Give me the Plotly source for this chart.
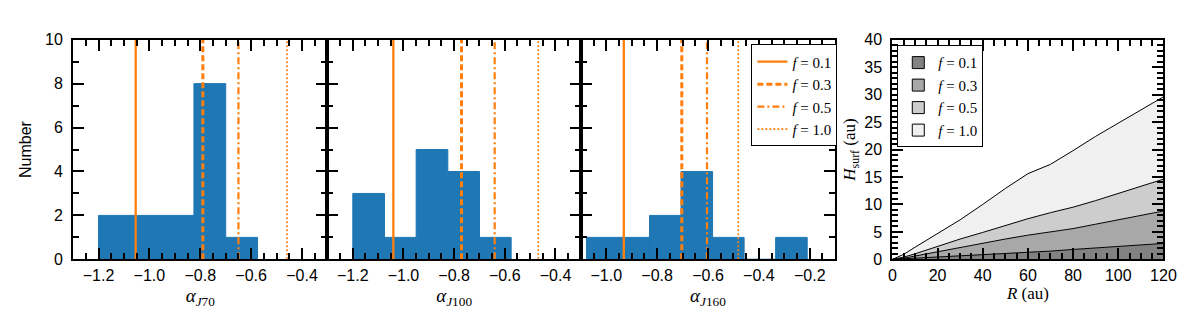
import plotly.graph_objects as go

# ── histogram data (bin start, bin width, counts) ───────────────────────────
BIN_START_J70 = -1.2
BIN_START_J100 = -1.2
BIN_START_J160 = -1.078
BIN_WIDTH = 0.125
BIN_WIDTH_J160 = 0.124
COUNTS_J70 = [2, 2, 2, 8, 1]
COUNTS_J100 = [3, 1, 5, 4, 1]
COUNTS_J160 = [1, 1, 2, 4, 1, 0, 1]

# ── vertical model lines (alpha for f = 0.1, 0.3, 0.5, 1.0) ─────────────────
F_LABELS = ['<i>f</i> = 0.1', '<i>f</i> = 0.3', '<i>f</i> = 0.5', '<i>f</i> = 1.0']
ALPHA_J70 = [-1.054, -0.790, -0.650, -0.459]
ALPHA_J100 = [-1.040, -0.771, -0.640, -0.468]
ALPHA_J160 = [-0.931, -0.703, -0.604, -0.481]

# ── surface height vs radius ────────────────────────────────────────────────
R_AU = [0, 5, 10, 20, 30, 40, 50, 60, 70, 80, 90, 100, 110, 120]
H_F01 = [0, 0.1, 0.2, 0.4, 0.6, 0.9, 1.1, 1.3, 1.5, 1.8, 2.1, 2.4, 2.6, 2.9]
H_F03 = [0, 0.2, 0.6, 1.4, 2.1, 2.9, 3.7, 4.4, 5.0, 5.6, 6.4, 7.2, 8.0, 8.8]
H_F05 = [0, 0.4, 1.0, 2.4, 3.7, 4.9, 6.2, 7.4, 8.5, 9.5, 10.7, 12.0, 13.3, 14.6]
H_F10 = [0, 0.9, 2.2, 4.7, 7.2, 10.0, 12.9, 15.6, 17.3, 19.8, 22.4, 24.8, 27.2, 29.6]

BLUE = '#1f77b4'
ORANGE = '#ff7f0e'
GREYS = ['#828282', '#a8a8a8', '#cdcdcd', '#f0f0f0']
LINE_STYLES = [('solid', 2.3), ('6px,3px', 3), ('7px,3px,2px,3px', 2.2), ('2px,2px', 1.6)]

SANS = 'Liberation Sans, Arial, sans-serif'
SERIF = 'Liberation Serif, Times New Roman, serif'

W, H = 1200, 320
TOP, BOTTOM = 25, 257
PANELS_PX = [(62, 320), (320, 577), (577, 835), (893, 1168)]

fig = go.Figure()

hist_sets = [
    (BIN_START_J70, BIN_WIDTH, COUNTS_J70, ALPHA_J70, 'x', 'y'),
    (BIN_START_J100, BIN_WIDTH, COUNTS_J100, ALPHA_J100, 'x2', 'y3'),
    (BIN_START_J160, BIN_WIDTH_J160, COUNTS_J160, ALPHA_J160, 'x3', 'y4'),
]
for i, (start, width, counts, alphas, xa, ya) in enumerate(hist_sets):
    centers = [start + width * (k + 0.5) for k in range(len(counts))]
    fig.add_trace(go.Bar(
        x=centers, y=counts, width=width,
        marker=dict(color=BLUE, line=dict(color=BLUE, width=1)),
        xaxis=xa, yaxis=ya, showlegend=False, hoverinfo='skip',
    ))
    for a, lab, (dash, lw) in zip(alphas, F_LABELS, LINE_STYLES):
        fig.add_trace(go.Scatter(
            x=[a, a], y=[0, 10], mode='lines',
            line=dict(color=ORANGE, dash=dash, width=lw),
            name=lab, legend='legend', showlegend=(i == 2),
            xaxis=xa, yaxis=ya, hoverinfo='skip',
        ))

for k, (hv, lab) in enumerate(zip([H_F01, H_F03, H_F05, H_F10], F_LABELS)):
    fig.add_trace(go.Scatter(
        x=R_AU, y=hv, mode='lines',
        fill='tozeroy' if k == 0 else 'tonexty',
        fillcolor=GREYS[k],
        line=dict(color='black', width=1),
        name=lab, showlegend=False,
        xaxis='x4', yaxis='y2', hoverinfo='skip',
    ))
# rectangular legend patches for the filled regions
for k, lab in enumerate(F_LABELS):
    fig.add_trace(go.Bar(
        x=[None], y=[None], name=lab, legend='legend2',
        marker=dict(color=GREYS[k], line=dict(color='black', width=1)),
        xaxis='x4', yaxis='y2', hoverinfo='skip',
    ))

tick_font = dict(family=SANS, size=16, color='black')
common = dict(
    showline=True, linecolor='black', linewidth=2, mirror='allticks',
    ticks='inside', ticklen=11, tickwidth=2, tickcolor='black',
    showgrid=False, zeroline=False, tickfont=tick_font,
)
minor_ticks = dict(ticks='inside', ticklen=6, tickwidth=1.5, tickcolor='black')


def dom(px):
    return [px[0] / W, px[1] / W]


ydom = [1 - BOTTOM / H, 1 - TOP / H]
xlab = ['<i>α</i><sub><i>J</i>70</sub>', '<i>α</i><sub><i>J</i>100</sub>', '<i>α</i><sub><i>J</i>160</sub>']
xranges = [[-1.3, -0.3], [-1.3, -0.3], [-1.1, -0.1]]

layout = dict(
    width=W, height=H, margin=dict(l=0, r=0, t=0, b=0),
    font=dict(family=SANS, color='black'),
    plot_bgcolor='white', paper_bgcolor='white', barmode='overlay',
    yaxis=dict(
        domain=ydom, range=[0, 10], dtick=2, anchor='x', ticklabelstandoff=5,
        minor=dict(dtick=1, **minor_ticks),
        title=dict(text='Number', font=dict(family=SANS, size=16, color='black'), standoff=10),
        **common,
    ),
    yaxis2=dict(
        domain=ydom, range=[0, 40], dtick=5, anchor='x4', ticklabelstandoff=5,
        minor=dict(dtick=1, **minor_ticks),
        title=dict(text='<i>H</i><sub>surf</sub> (au)',
                   font=dict(family=SERIF, size=17, color='black'), standoff=4),
        **common,
    ),
    xaxis4=dict(
        domain=dom(PANELS_PX[3]), range=[0, 120], dtick=20, anchor='y2',
        minor=dict(dtick=5, **minor_ticks),
        title=dict(text='<i>R</i> (au)', font=dict(family=SERIF, size=17, color='black'), standoff=4),
        **common,
    ),
    legend=dict(
        x=750 / W, y=1 - 30 / H, xanchor='left', yanchor='top',
        bgcolor='white', bordercolor='black', borderwidth=1,
        font=dict(family=SERIF, size=15, color='black'), tracegroupgap=0,
        itemwidth=30, traceorder='normal',
    ),
    legend2=dict(
        x=898 / W, y=1 - 31 / H, xanchor='left', yanchor='top',
        bgcolor='white', bordercolor='black', borderwidth=1,
        font=dict(family=SERIF, size=15, color='black'), tracegroupgap=0,
        itemwidth=30, traceorder='normal',
    ),
)
for i in range(3):
    key = 'xaxis' if i == 0 else f'xaxis{i + 1}'
    layout[key] = dict(
        domain=dom(PANELS_PX[i]), range=xranges[i], dtick=0.2, tick0=-1.2,
        anchor='y' if i == 0 else f'y{i + 2}', tickformat='.1f',
        minor=dict(dtick=0.05, **minor_ticks),
        title=dict(text=xlab[i], font=dict(family=SERIF, size=19, color='black'), standoff=6),
        **common,
    )

# panels 2 and 3 share the y scale of panel 1 but show no tick labels
for key, anchor in (('yaxis3', 'x2'), ('yaxis4', 'x3')):
    layout[key] = dict(
        domain=ydom, range=[0, 10], dtick=2, anchor=anchor, overlaying='y',
        showticklabels=False, minor=dict(dtick=1, **minor_ticks), **common,
    )

fig.update_layout(**layout)
fig.write_html('out.html')
